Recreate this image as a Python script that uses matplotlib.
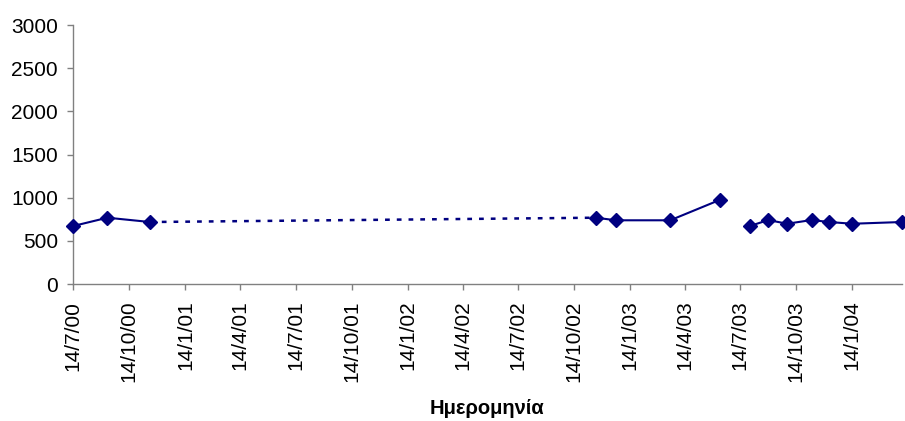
import datetime as dt

import matplotlib
matplotlib.use("Agg")
import matplotlib.pyplot as plt

plt.rcParams["font.family"] = ["Liberation Sans", "DejaVu Sans"]

# measurements (date, value)
dates = [
    dt.date(2000, 7, 14), dt.date(2000, 9, 8), dt.date(2000, 11, 17),
    dt.date(2002, 11, 19), dt.date(2002, 12, 22), dt.date(2003, 3, 21),
    dt.date(2003, 6, 10), dt.date(2003, 7, 30), dt.date(2003, 8, 29),
    dt.date(2003, 9, 29), dt.date(2003, 11, 8), dt.date(2003, 12, 7),
    dt.date(2004, 1, 14), dt.date(2004, 4, 4),
]
values = [672, 768, 718, 768, 738, 738, 973, 672, 741, 698, 741, 718, 698, 718]

# continuous runs of measurements, and the dotted bridge over the long gap
runs = [(0, 3), (3, 7), (7, 14)]
bridge = (2, 3)

tick_dates = [dt.date(2000 + (6 + 3 * i) // 12, (6 + 3 * i) % 12 + 1, 14) for i in range(15)]
tick_labels = [f"{d.day}/{d.month}/{d.year % 100:02d}" for d in tick_dates]

color = "#000080"

fig = plt.figure(figsize=(9.05, 4.21), dpi=100)
ax = fig.add_axes([0.081, 0.3254, 0.9153, 0.6152])

for a, b in runs:
    ax.plot(dates[a:b], values[a:b], color=color, lw=1.5, marker="D", ms=7.5,
            clip_on=False, zorder=3)
i, j = bridge
ax.plot([dates[i], dates[j]], [values[i], values[j]], color=color, lw=1.8,
        dashes=(1.9, 2.8), dash_capstyle="butt", zorder=2)

ax.set_xlim(dates[0], dates[-1])
ax.set_ylim(0, 3000)
ax.set_yticks(range(0, 3001, 500))
ax.set_xticks(tick_dates)
ax.set_xticklabels(tick_labels, rotation=90)

for s in ("top", "right"):
    ax.spines[s].set_visible(False)
for s in ("left", "bottom"):
    ax.spines[s].set_color("#808080")
    ax.spines[s].set_linewidth(1.0)
ax.tick_params(axis="both", length=4, width=1.0, color="#808080",
               labelsize=15, labelcolor="black")
ax.tick_params(axis="x", pad=8)
ax.tick_params(axis="y", pad=7)

ax.set_xlabel("Ημερομηνία", fontsize=14.5, fontweight="bold", labelpad=12)

fig.savefig("out.png", dpi=100)
